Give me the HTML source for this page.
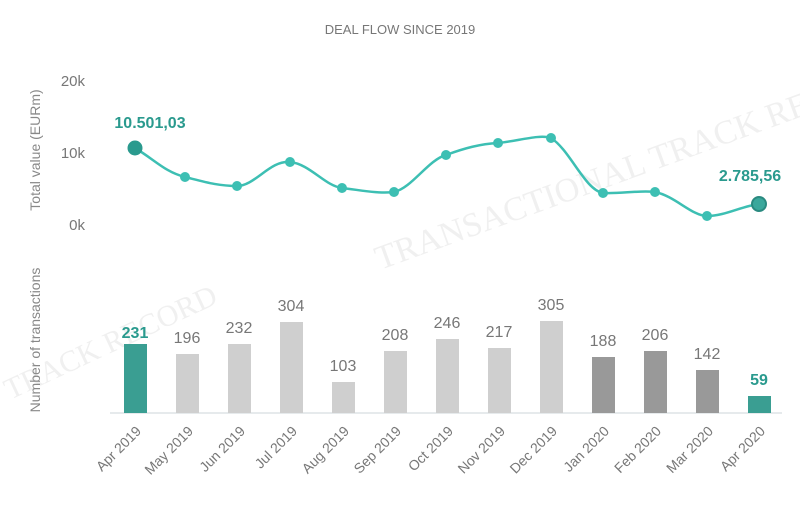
<!DOCTYPE html>
<html><head><style>
body{margin:0;background:#fff;}
svg{display:block;font-family:"Liberation Sans",sans-serif;}
</style></head><body>
<svg width="800" height="526" viewBox="0 0 800 526" xmlns="http://www.w3.org/2000/svg">
<g fill="#f0f0f0" font-family="Liberation Serif,serif">
<text x="380" y="270" font-size="34" transform="rotate(-20 380 270)">TRANSACTIONAL TRACK RECORD</text>
<text x="10" y="400" font-size="30" transform="rotate(-25 10 400)">TRACK RECORD</text>
</g>
<text x="400" y="34" text-anchor="middle" font-size="13" fill="#777">DEAL FLOW SINCE 2019</text>
<g fill="#777" font-size="15" text-anchor="end">
<text x="85" y="86">20k</text><text x="85" y="158">10k</text><text x="85" y="230">0k</text>
</g>
<text transform="translate(40,150) rotate(-90)" text-anchor="middle" font-size="14" fill="#888">Total value (EURm)</text>
<text transform="translate(40,340) rotate(-90)" text-anchor="middle" font-size="14" fill="#888">Number of transactions</text>
<path d="M135,148 C155,160 165,172 185,177 C205,182 218,186 237,186 C255,186 270,160 290,162 C310,164 325,186 342,188 C360,190 378,194 394,192 C412,188 428,160 446,155 C465,148 480,144 498,143 C518,141 540,134 551,138 C570,150 585,190 603,193 C620,194 640,190 655,192 C675,196 692,216 707,216 C725,216 742,206 759,204" fill="none" stroke="#3dbfb3" stroke-width="2.5"/>
<g fill="#3dbfb3">
<circle cx="185" cy="177" r="5"/><circle cx="237" cy="186" r="5"/><circle cx="290" cy="162" r="5"/><circle cx="342" cy="188" r="5"/><circle cx="394" cy="192" r="5"/><circle cx="446" cy="155" r="5"/><circle cx="498" cy="143" r="5"/><circle cx="551" cy="138" r="5"/><circle cx="603" cy="193" r="5"/><circle cx="655" cy="192" r="5"/><circle cx="707" cy="216" r="5"/>
</g>
<circle cx="135" cy="148" r="7" fill="#2a9a8e" stroke="#2a9a8e"/>
<circle cx="759" cy="204" r="7" fill="#3aa89c" stroke="#2a8a80" stroke-width="2"/>
<text x="150" y="128" text-anchor="middle" font-size="16" font-weight="bold" fill="#2a9a8e">10.501,03</text>
<text x="750" y="181" text-anchor="middle" font-size="16" font-weight="bold" fill="#2a9a8e">2.785,56</text>
<line x1="110" y1="413" x2="782" y2="413" stroke="#dde3e6" stroke-width="1.5"/>
<g>
<rect x="124" y="344" width="23" height="69" fill="#3a9e92"/>
<rect x="176" y="354" width="23" height="59" fill="#cfcfcf"/>
<rect x="228" y="344" width="23" height="69" fill="#cfcfcf"/>
<rect x="280" y="322" width="23" height="91" fill="#cfcfcf"/>
<rect x="332" y="382" width="23" height="31" fill="#cfcfcf"/>
<rect x="384" y="351" width="23" height="62" fill="#cfcfcf"/>
<rect x="436" y="339" width="23" height="74" fill="#cfcfcf"/>
<rect x="488" y="348" width="23" height="65" fill="#cfcfcf"/>
<rect x="540" y="321" width="23" height="92" fill="#cfcfcf"/>
<rect x="592" y="357" width="23" height="56" fill="#999"/>
<rect x="644" y="351" width="23" height="62" fill="#999"/>
<rect x="696" y="370" width="23" height="43" fill="#999"/>
<rect x="748" y="396" width="23" height="17" fill="#3a9e92"/>
</g>
<g font-size="16" fill="#777" text-anchor="middle">
<text x="135" y="338" font-weight="bold" fill="#2a9a8e">231</text>
<text x="187" y="343">196</text><text x="239" y="333">232</text><text x="291" y="311">304</text>
<text x="343" y="371">103</text><text x="395" y="340">208</text><text x="447" y="328">246</text>
<text x="499" y="337">217</text><text x="551" y="310">305</text><text x="603" y="346">188</text>
<text x="655" y="340">206</text><text x="707" y="359">142</text>
<text x="759" y="385" font-weight="bold" fill="#2a9a8e">59</text>
</g>
<g font-size="14" fill="#777" text-anchor="end">
<text transform="translate(142,432) rotate(-45)">Apr 2019</text>
<text transform="translate(194,432) rotate(-45)">May 2019</text>
<text transform="translate(246,432) rotate(-45)">Jun 2019</text>
<text transform="translate(298,432) rotate(-45)">Jul 2019</text>
<text transform="translate(350,432) rotate(-45)">Aug 2019</text>
<text transform="translate(402,432) rotate(-45)">Sep 2019</text>
<text transform="translate(454,432) rotate(-45)">Oct 2019</text>
<text transform="translate(506,432) rotate(-45)">Nov 2019</text>
<text transform="translate(558,432) rotate(-45)">Dec 2019</text>
<text transform="translate(610,432) rotate(-45)">Jan 2020</text>
<text transform="translate(662,432) rotate(-45)">Feb 2020</text>
<text transform="translate(714,432) rotate(-45)">Mar 2020</text>
<text transform="translate(766,432) rotate(-45)">Apr 2020</text>
</g>
</svg>
</body></html>
